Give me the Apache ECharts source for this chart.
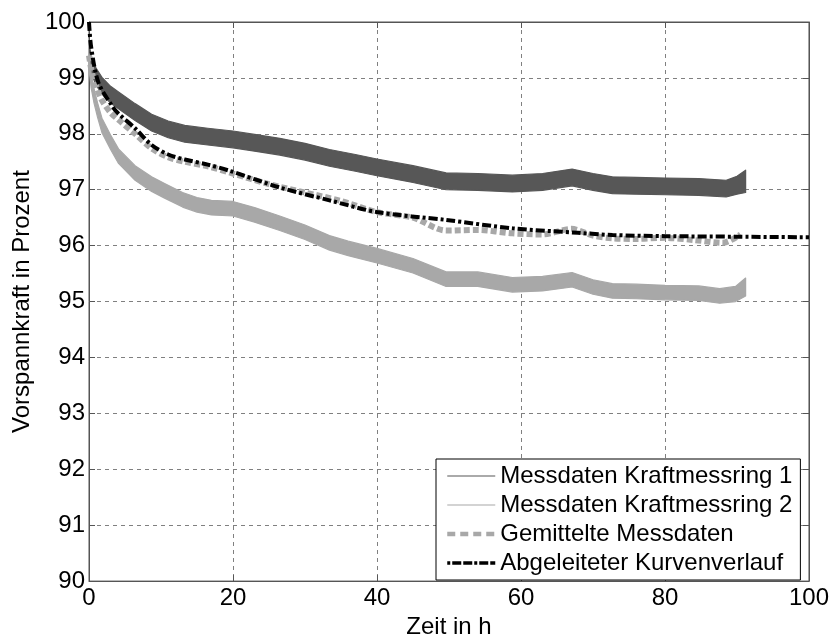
<!DOCTYPE html>
<html>
<head>
<meta charset="utf-8">
<script src="https://cdn.jsdelivr.net/npm/echarts@6/dist/echarts.min.js"></script>
<style>html,body{margin:0;padding:0;background:#fff}#c{width:832px;height:644px}</style>
</head>
<body>
<div id="c"></div>
<script>
// ---- data ----
var xTicks = [0, 20, 40, 60, 80, 100];
var yTicks = [90, 91, 92, 93, 94, 95, 96, 97, 98, 99, 100];

// Messdaten Kraftmessring 1: time (h), lower and upper edge of the noisy band (%)
var ring1T  = [0, 0.4, 1, 1.8, 3, 4.1, 6.4, 8.7, 11, 13.3, 16.5, 20, 23, 26.5, 30, 33.4, 37, 40, 45, 49.6, 54, 58.8, 63, 67.1, 70, 72.7, 76, 80, 84.7, 88.5, 90, 91.2];
var ring1Hi = [99.6, 99.35, 99.17, 99.01, 98.85, 98.75, 98.54, 98.35, 98.23, 98.15, 98.1, 98.05, 97.99, 97.92, 97.83, 97.72, 97.63, 97.55, 97.43, 97.3, 97.29, 97.26, 97.29, 97.37, 97.29, 97.23, 97.22, 97.21, 97.2, 97.17, 97.24, 97.35];
var ring1Lo = [99.3, 99.05, 98.87, 98.71, 98.55, 98.45, 98.24, 98.05, 97.93, 97.85, 97.8, 97.75, 97.69, 97.62, 97.53, 97.42, 97.33, 97.25, 97.13, 97.0, 96.99, 96.96, 96.99, 97.07, 96.99, 96.93, 96.92, 96.91, 96.9, 96.87, 96.92, 96.95];

// Messdaten Kraftmessring 2
var ring2T  = [0, 0.3, 0.7, 1.2, 1.8, 3, 4.1, 6.4, 8.7, 10.5, 13, 15, 17, 20, 23, 26.5, 30, 33.4, 36, 40, 45, 49.6, 54, 58.8, 63, 67.1, 70, 72.7, 76, 80, 84.7, 87.6, 89.8, 91.2];
var ring2Hi = [99.43, 99.08, 98.81, 98.55, 98.28, 97.98, 97.73, 97.43, 97.23, 97.11, 96.95, 96.86, 96.81, 96.79, 96.68, 96.53, 96.37, 96.18, 96.08, 95.95, 95.77, 95.53, 95.53, 95.43, 95.45, 95.52, 95.39, 95.32, 95.31, 95.29, 95.28, 95.23, 95.27, 95.42];
var ring2Lo = [99.17, 98.82, 98.55, 98.29, 98.02, 97.72, 97.47, 97.17, 96.97, 96.85, 96.69, 96.6, 96.55, 96.53, 96.42, 96.27, 96.11, 95.92, 95.82, 95.69, 95.51, 95.27, 95.27, 95.17, 95.19, 95.26, 95.13, 95.06, 95.05, 95.03, 95.02, 94.97, 95.0, 95.1];

// Gemittelte Messdaten
var avgT = [0, 0.4, 1, 1.8, 3, 4.1, 6.4, 8.7, 11, 13.3, 16.5, 20, 25, 30, 35, 40, 45, 49.6, 54, 58.8, 63, 67, 70, 72.7, 76, 80, 84, 88, 90.5];
var avgV = [99.4, 99.1, 98.85, 98.6, 98.38, 98.25, 98.0, 97.74, 97.58, 97.5, 97.42, 97.29, 97.1, 96.95, 96.8, 96.6, 96.5, 96.27, 96.28, 96.22, 96.2, 96.3, 96.18, 96.13, 96.12, 96.14, 96.1, 96.05, 96.2];

// Abgeleiteter Kurvenverlauf
var fitT = [0, 0.3, 1.3, 3.2, 4.1, 6.4, 8.7, 11, 13.3, 16.5, 19.5, 26.5, 33.4, 40, 49.6, 58.8, 67.9, 72.7, 80, 90, 100];
var fitV = [100, 99.55, 98.92, 98.5, 98.36, 98.1, 97.8, 97.63, 97.54, 97.45, 97.34, 97.04, 96.81, 96.6, 96.46, 96.31, 96.23, 96.19, 96.17, 96.16, 96.15];

var names = ['Messdaten Kraftmessring 1', 'Messdaten Kraftmessring 2', 'Gemittelte Messdaten', 'Abgeleiteter Kurvenverlauf'];

function pairs(t, v) { return t.map(function (x, i) { return [x, v[i]]; }); }

var FONT = 'Liberation Sans, Arial, sans-serif';
var axisColor = '#555';
var gridLine = { show: true, lineStyle: { color: '#808080', type: [4, 4], width: 1 } };
var C1 = '#575757', C2 = '#a8a8a8';

// noisy measurement band drawn as one polygon between lower and upper edge, positioned via the axes
function band(id, t, lo, hi, color) {
  return {
    name: id, type: 'custom', coordinateSystem: 'cartesian2d', xAxisIndex: 0, yAxisIndex: 0,
    data: pairs(t, hi).concat(pairs(t, lo)), clip: true, silent: true, z: 2,
    renderItem: function (params, api) {
      if (params.dataIndex !== 0) return null;
      var up = t.map(function (x, i) { return api.coord([x, hi[i]]); });
      var dn = t.map(function (x, i) { return api.coord([x, lo[i]]); }).reverse();
      return { type: 'polygon', shape: { points: up.concat(dn) },
        style: { fill: color, stroke: color, lineWidth: 1.2, lineJoin: 'round' } };
    }
  };
}
function legendLine(name, color) {
  return { name: name, type: 'line', data: [], symbol: 'none', showSymbol: false,
    lineStyle: { color: color, width: 1.2 }, itemStyle: { color: color } };
}

var chart = echarts.init(document.getElementById('c'), null, { renderer: 'canvas' });
chart.setOption({
  animation: false,
  backgroundColor: '#fff',
  grid: { left: 89, right: 22, top: 22, bottom: 54, show: true, borderColor: axisColor, borderWidth: 1, containLabel: false },
  xAxis: [{
    type: 'value', min: xTicks[0], max: xTicks[xTicks.length - 1], interval: 20,
    position: 'bottom',
    name: 'Zeit in h', nameLocation: 'middle', nameGap: 27,
    nameTextStyle: { fontFamily: FONT, fontSize: 24, color: '#000' },
    axisLine: { show: true, onZero: false, lineStyle: { color: axisColor } },
    axisTick: { show: true, inside: true, length: 6, lineStyle: { color: axisColor } },
    axisLabel: { fontFamily: FONT, fontSize: 24, color: '#000', margin: 5 },
    splitLine: gridLine
  }, {
    type: 'value', min: xTicks[0], max: xTicks[xTicks.length - 1], interval: 20,
    position: 'top',
    axisLine: { show: true, onZero: false, lineStyle: { color: axisColor } },
    axisTick: { show: true, inside: true, length: 6, lineStyle: { color: axisColor } },
    axisLabel: { show: false }, splitLine: { show: false }
  }],
  yAxis: [{
    type: 'value', min: yTicks[0], max: yTicks[yTicks.length - 1], interval: 1,
    position: 'left',
    name: 'Vorspannkraft in Prozent', nameLocation: 'middle', nameGap: 54,
    nameTextStyle: { fontFamily: FONT, fontSize: 24, color: '#000' },
    axisLine: { show: true, onZero: false, lineStyle: { color: axisColor } },
    axisTick: { show: true, inside: true, length: 6, lineStyle: { color: axisColor } },
    axisLabel: { fontFamily: FONT, fontSize: 24, color: '#000', margin: 4 },
    splitLine: gridLine
  }, {
    type: 'value', min: yTicks[0], max: yTicks[yTicks.length - 1], interval: 1,
    position: 'right',
    axisLine: { show: true, onZero: false, lineStyle: { color: axisColor } },
    axisTick: { show: true, inside: true, length: 6, lineStyle: { color: axisColor } },
    axisLabel: { show: false }, splitLine: { show: false }
  }],
  legend: {
    show: true,
    orient: 'vertical', left: 436, top: 459,
    backgroundColor: '#fff', borderColor: '#000', borderWidth: 1,
    padding: [5, 8, 5, 9], itemGap: 5, itemWidth: 48, itemHeight: 20,
    textStyle: { fontFamily: FONT, fontSize: 24, color: '#000' },
    itemStyle: { opacity: 0 },
    data: [
      { name: names[0], itemStyle: { opacity: 0 }, lineStyle: { width: 1.2, color: C1, type: 'solid', opacity: 1 } },
      { name: names[1], itemStyle: { opacity: 0 }, lineStyle: { width: 1.2, color: C2, type: 'solid', opacity: 1 } },
      { name: names[2], itemStyle: { opacity: 0 }, lineStyle: { width: 4.5, color: C2, type: [8, 5], opacity: 1 } },
      { name: names[3], itemStyle: { opacity: 0 }, lineStyle: { width: 3.5, color: '#000', type: [3, 2, 9, 2, 9, 2], opacity: 1 } }
    ]
  },
  series: [
    band('band1', ring1T, ring1Lo, ring1Hi, C1),
    band('band2', ring2T, ring2Lo, ring2Hi, C2),
    legendLine(names[0], C1),
    legendLine(names[1], C2),
    { name: names[2], type: 'line', data: pairs(avgT, avgV), smooth: 0.3, symbol: 'none', showSymbol: false, clip: true,
      lineStyle: { color: C2, width: 6, type: [6, 3] }, itemStyle: { color: C2 }, z: 3 },
    { name: names[3], type: 'line', data: pairs(fitT, fitV), smooth: 0.3, symbol: 'none', showSymbol: false, clip: true,
      lineStyle: { color: '#000000', width: 4, type: [9, 3, 3, 3] }, itemStyle: { color: '#000000' }, z: 4 }
  ]
});
</script>
</body>
</html>
